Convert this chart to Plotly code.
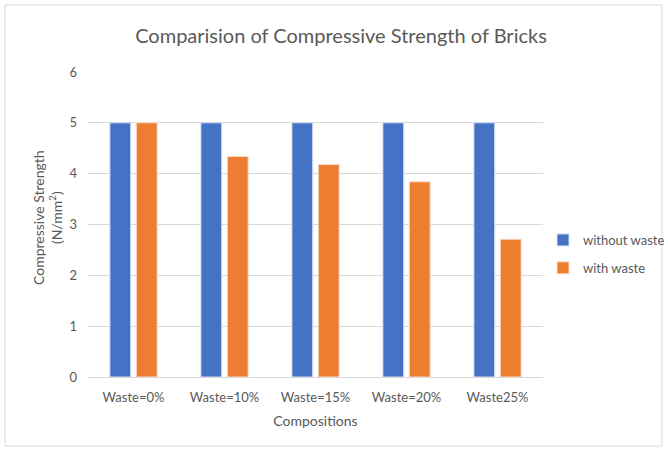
import plotly.graph_objects as go

categories = ["Waste=0%", "Waste=10%", "Waste=15%", "Waste=20%", "Waste25%"]
without_waste = [5, 5, 5, 5, 5]
with_waste = [5, 4.34, 4.18, 3.84, 2.71]
y_ticks = [0, 1, 2, 3, 4, 5, 6]

FONT = "Lato"
GREY = "#595959"

fig = go.Figure()
fig.add_trace(go.Bar(x=categories, y=without_waste, name="without waste",
                     marker=dict(color="#4472C4", line=dict(color="#D6E0F5", width=1)),
                     legendgroup="a"))
fig.add_trace(go.Bar(x=categories, y=with_waste, name="with waste",
                     marker=dict(color="#ED7D31", line=dict(color="#FBDCC8", width=1)),
                     legendgroup="b"))

W, H = 668, 452
L, R, T, B = 88, 125, 72, 75
pw, ph = W - L - R, H - T - B

fig.update_layout(
    width=W, height=H,
    margin=dict(l=L, r=R, t=T, b=B, autoexpand=False),
    paper_bgcolor="white", plot_bgcolor="white",
    barmode="group", bargap=0.42, bargroupgap=0.21,
    font=dict(family=FONT, color=GREY, size=13),
    title=dict(text="Comparision of Compressive Strength of Bricks",
               x=341 / W, xanchor="center", y=1 - 36 / H, yanchor="middle",
               font=dict(size=20, color=GREY, family=FONT), automargin=False),
    xaxis=dict(showgrid=False, showline=True, linecolor="#D9D9D9", linewidth=1,
               ticks="", tickfont=dict(size=13, color=GREY), automargin=False,
               ticklabelstandoff=8,
               title=dict(text="Compositions", font=dict(size=14, color=GREY), standoff=12)),
    yaxis=dict(range=[0, 6], tickvals=y_ticks, showgrid=True, gridcolor="#D9D9D9",
               zeroline=False, showline=False, ticks="", ticklen=0, automargin=False,
               ticklabelstandoff=10,
               tickfont=dict(size=13, color=GREY)),
    annotations=[dict(text="Compressive Strength<br>(N/mm<sup>2</sup>)",
                      textangle=-90, xref="paper", yref="paper",
                      x=(47 - L) / pw, y=1 - (218 - T) / ph,
                      xanchor="center", yanchor="middle", showarrow=False,
                      font=dict(size=14, color=GREY))],
    legend=dict(x=(543 - L) / pw, y=1 - (225 - T) / ph, xanchor="left", yanchor="top",
                font=dict(size=13, color=GREY), tracegroupgap=8, bgcolor="rgba(0,0,0,0)"),
    shapes=[dict(type="rect", xref="paper", yref="paper",
                 x0=(5 - L) / pw, x1=(662 - L) / pw,
                 y0=1 - (446 - T) / ph, y1=1 - (5 - T) / ph,
                 line=dict(color="#D9D9D9", width=1), layer="below")],
)

fig.write_html("out.html", config={"displayModeBar": False},
               post_script="document.body.style.margin='0px';document.body.style.overflow='hidden';")
